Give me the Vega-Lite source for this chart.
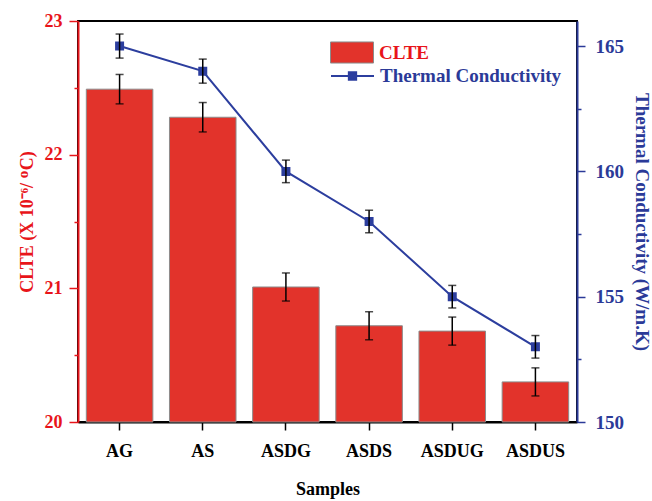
{
  "$schema": "https://vega.github.io/schema/vega-lite/v6.json",
  "width": 499,
  "height": 401,
  "autosize": "none",
  "padding": {"left": 78, "top": 21, "right": 75, "bottom": 79},
  "background": "white",
  "config": {
    "view": {"stroke": "black", "strokeWidth": 2},
    "font": "Liberation Serif",
    "axis": {"labelFont": "Liberation Serif", "labelFontWeight": "bold", "titleFont": "Liberation Serif", "titleFontWeight": "bold"}
  },
  "data": {"values": [
    {"sample": "AG", "clte": 22.49, "clte_err": 0.11, "tc": 165, "tc_err": 0.48},
    {"sample": "AS", "clte": 22.28, "clte_err": 0.11, "tc": 164, "tc_err": 0.48},
    {"sample": "ASDG", "clte": 21.01, "clte_err": 0.105, "tc": 160, "tc_err": 0.45},
    {"sample": "ASDS", "clte": 20.72, "clte_err": 0.105, "tc": 158, "tc_err": 0.45},
    {"sample": "ASDUG", "clte": 20.68, "clte_err": 0.105, "tc": 155, "tc_err": 0.45},
    {"sample": "ASDUS", "clte": 20.30, "clte_err": 0.105, "tc": 153, "tc_err": 0.45}
  ]},
  "encoding": {
    "x": {
      "field": "sample", "type": "nominal", "sort": null,
      "scale": {"paddingInner": 0.2, "paddingOuter": 0.1},
      "axis": {
        "title": "Samples", "labelAngle": 0,
        "labelFont": "Liberation Serif", "labelFontWeight": "bold", "labelFontSize": 18, "labelColor": "black",
        "labelPadding": 12, "tickSize": 8, "tickColor": "black", "tickWidth": 1.5,
        "domainColor": "black", "domainWidth": 2,
        "titleFont": "Liberation Serif", "titleFontWeight": "bold", "titleFontSize": 18, "titleColor": "black", "titlePadding": 20
      }
    }
  },
  "layer": [
    {
      "encoding": {
        "y": {
          "field": "clte", "type": "quantitative",
          "scale": {"domain": [20, 23], "zero": false, "nice": false},
          "axis": {
            "orient": "left", "grid": false,
            "values": [20, 20.5, 21, 21.5, 22, 22.5, 23],
            "labelExpr": "datum.value % 1 === 0 ? format(datum.value, 'd') : ''",
            "tickSize": {"condition": {"test": "datum.value % 1 !== 0", "value": 4}, "value": 9},
            "tickColor": "#e8141a", "tickWidth": 1.5,
            "domainColor": "#e8141a", "domainWidth": 2,
            "labelFont": "Liberation Serif", "labelFontWeight": "bold", "labelFontSize": 18, "labelColor": "#e8141a", "labelPadding": 7,
            "title": "CLTE (X 10⁻⁶/ ᴼC)",
            "titleFont": "Liberation Serif", "titleFontWeight": "bold", "titleFontSize": 18, "titleColor": "#e8141a", "titlePadding": 8
          }
        }
      },
      "layer": [
        {
          "mark": {"type": "bar", "stroke": "#8c8c8c", "strokeWidth": 1},
          "encoding": {
            "y2": {"datum": 20},
            "fill": {
              "datum": "CLTE",
              "scale": {"range": ["#e2332b"]},
              "legend": {
                "orient": "none", "legendX": 252, "legendY": 9.5, "title": null, "padding": 0,
                "symbolType": "M-1,-0.49H1V0.49H-1Z", "symbolSize": 1849,
                "symbolStrokeColor": "#8c8c8c", "symbolStrokeWidth": 1,
                "labelFont": "Liberation Serif", "labelFontWeight": "bold", "labelFontSize": 19,
                "labelColor": "#e8141a", "labelOffset": 5, "labelLimit": 300
              }
            }
          }
        },
        {
          "mark": {"type": "errorbar", "color": "black", "thickness": 1.5, "ticks": {"size": 8}},
          "encoding": {"yError": {"field": "clte_err"}}
        }
      ]
    },
    {
      "encoding": {
        "y": {
          "field": "tc", "type": "quantitative",
          "scale": {"domain": [150, 166], "zero": false, "nice": false},
          "axis": {
            "orient": "right", "grid": false,
            "values": [150, 152.5, 155, 157.5, 160, 162.5, 165],
            "labelExpr": "datum.value % 5 === 0 ? format(datum.value, 'd') : ''",
            "tickSize": {"condition": {"test": "datum.value % 5 !== 0", "value": 4}, "value": 8},
            "tickColor": "#2b3a98", "tickWidth": 1.5,
            "domainColor": "#2b3a98", "domainWidth": 2,
            "labelFont": "Liberation Serif", "labelFontWeight": "bold", "labelFontSize": 19, "labelColor": "#2b3a98", "labelPadding": 10,
            "title": "Thermal Conductivity (W/m.K)",
            "titleFont": "Liberation Serif", "titleFontWeight": "bold", "titleFontSize": 19, "titleColor": "#2b3a98", "titlePadding": 8
          }
        }
      },
      "layer": [
        {
          "mark": {"type": "line", "strokeWidth": 2, "point": {"shape": "square", "size": 49, "filled": true, "color": "#2c3e9e"}},
          "encoding": {
            "stroke": {
              "datum": "Thermal Conductivity",
              "scale": {"range": ["#2c3e9e"]},
              "legend": {
                "orient": "none", "legendX": 252, "legendY": 32.5, "title": null, "padding": 0,
                "symbolType": "M-1,0H1M-0.17,-0.17H0.17V0.17H-0.17Z", "symbolSize": 1849,
                "symbolStrokeWidth": 2, "symbolFillColor": "#2c3e9e", "symbolStrokeColor": "#2c3e9e",
                "labelFont": "Liberation Serif", "labelFontWeight": "bold", "labelFontSize": 19,
                "labelColor": "#2b3a98", "labelOffset": 5, "labelLimit": 300
              }
            }
          }
        },
        {
          "mark": {"type": "errorbar", "color": "black", "thickness": 1.5, "ticks": {"size": 8}},
          "encoding": {"yError": {"field": "tc_err"}}
        }
      ]
    }
  ],
  "resolve": {"scale": {"y": "independent"}}
}
